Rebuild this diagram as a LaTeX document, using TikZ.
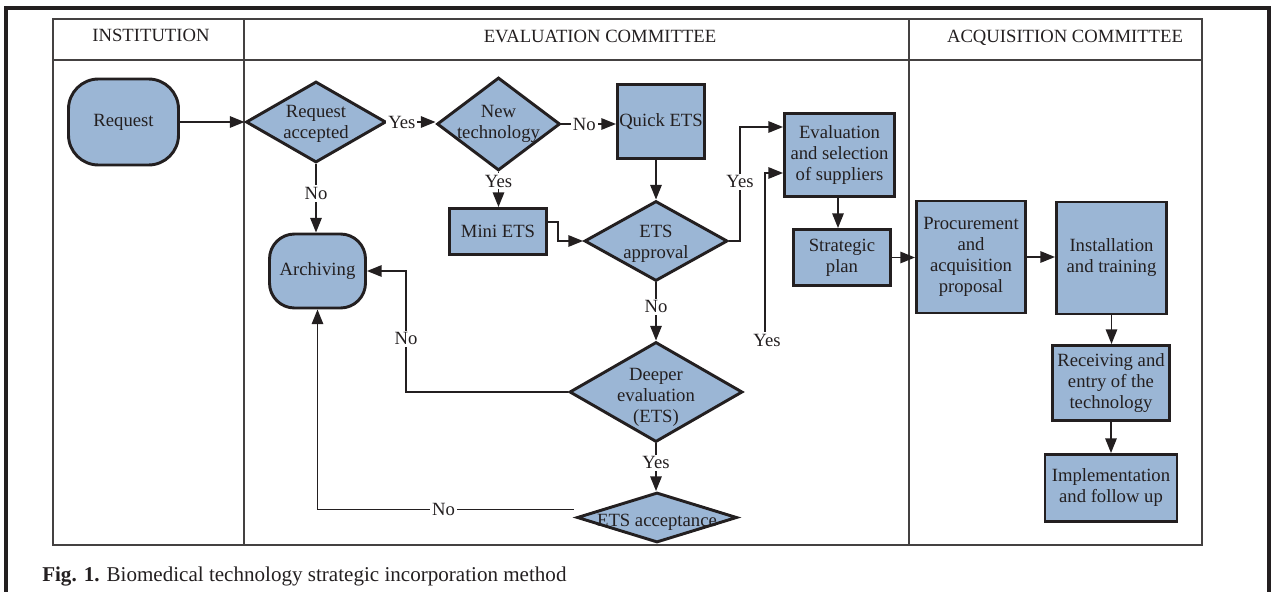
\documentclass[tikz,border=0pt]{standalone}
\usepackage{fontspec}
\setmainfont{Liberation Serif}
\usetikzlibrary{shapes.geometric,arrows.meta,calc}
\definecolor{boxfill}{RGB}{155,182,213}
\definecolor{ink}{RGB}{35,31,32}
\newcommand{\ctr}[2][0pt]{\makebox[0pt]{\raisebox{\dimexpr #1-\height/2\relax}[0pt][0pt]{\begin{tabular}[b]{@{}c@{}}#2\end{tabular}}}}
\tikzset{
  sz/.style 2 args={minimum width=#1*0.75pt, minimum height=#2*0.75pt},
  box/.style={draw=ink, line width=2.2pt, fill=boxfill, inner sep=0pt, align=center, text=ink},
  rbox/.style={box, rounded corners=#1*0.75pt},
  dia/.style={draw=ink, line width=2.2pt, fill=boxfill, shape=diamond, inner sep=0pt, text=ink},
  arr/.style={draw=ink, line width=1.1pt, -{Triangle[length=11pt,width=8.6pt]}},
  lab/.style={fill=white, inner sep=1.5pt, text=ink},
  lane/.style={draw=ink!85, line width=0.8pt},
  frame/.style={draw=ink, line width=2.3pt},
  hdr/.style={text=ink, inner sep=0pt, anchor=base}
}
\begin{document}
\begin{tikzpicture}[x=0.75pt,y=-0.75pt,font=\fontsize{14}{15.75}\selectfont]
\useasboundingbox (0,0) rectangle (1272,592);
\clip (0,0) rectangle (1272,592);
% outer frame
\draw[frame] (6,640) -- (6,8) -- (1269,8) -- (1269,640);
% lanes
\draw[lane] (53,19) rectangle (1202,545);
\draw[lane] (53,60) -- (1202,60);
\draw[lane] (244,19) -- (244,545);
\draw[lane] (909,19) -- (909,545);
\node[hdr] (hInst) at (151,42) {INSTITUTION};
\node[hdr] (hEval) at (600,42.5) {EVALUATION COMMITTEE};
\node[hdr] (hAcq) at (1065,42.5) {ACQUISITION COMMITTEE};
% nodes
\node[rbox=30, sz={110}{86}] (req) at (123.5,122) {Request};
\node[dia, sz={140}{81}] (acc) at (316,122) {\ctr[1pt]{Request\\accepted}};
\node[dia, sz={123}{93}] (newt) at (498.5,124) {\ctr[2.25pt]{New\\technology}};
\node[box, sz={87}{74}] (quick) at (661,121.5) {Quick ETS};
\node[box, sz={97}{46}] (mini) at (498,231.5) {Mini ETS};
\node[dia, sz={143}{80}] (app) at (656,241) {\ctr{ETS\\approval}};
\node[box, sz={110}{83}] (eval) at (839.5,155) {Evaluation\\and selection\\of suppliers};
\node[box, sz={97}{56}] (strat) at (842,257.5) {Strategic\\plan};
\node[box, sz={109}{112}] (proc) at (971,257) {Procurement\\and\\acquisition\\proposal};
\node[box, sz={110}{112}] (inst) at (1111.5,258) {\raisebox{3pt}{\begin{tabular}{@{}c@{}}Installation\\and training\end{tabular}}};
\node[box, sz={117}{75}] (recv) at (1111,383) {Receiving and\\entry of the\\technology};
\node[box, sz={132}{67}] (impl) at (1111,488) {Implementation\\and follow up};
\node[dia, sz={173}{100}] (deep) at (656,392) {\ctr[-1.5pt]{Deeper\\evaluation\\(ETS)}};
\node[dia, sz={160}{50}] (acc2) at (657,517.5) {\ctr[-1pt]{ETS acceptance}};
\node[rbox=25, sz={96}{74}] (arch) at (317.5,271) {Archiving};
\node[lab] (yesfree) at (767,340) {Yes};
% caption
\node[anchor=west, text=ink, inner sep=0pt, font=\fontsize{15.8}{18}\selectfont] (cap) at (42,577) {\textbf{Fig. 1.} Biomedical technology strategic incorporation method};
% connectors
\draw[arr] (req.east) -- (req.east -| acc.west);
\draw[arr] (acc.east) -- node[lab, pos=0.3] {Yes} (acc.east -| newt.west);
\draw[arr] (newt.east) -- node[lab, pos=0.42] {No} (newt.east -| quick.west);
\draw[arr] (newt.south) -- node[lab, pos=0.26] {Yes} (newt.south |- mini.north);
\draw[arr] ($(mini.east)+(0,-9.5)$) -- ++(10,0) |- (app.west);
\draw[arr] (quick.south -| app.north) -- (app.north);
\draw[arr] (app.east) -- ++(11,0) |- node[lab, pos=0.26] {Yes} ($(eval.west)+(0,-28)$);
\draw[arr] (yesfree.north -| 765,0) |- ($(eval.west)+(0,18)$);
\draw[arr] (eval.south -| 838,0) -- (strat.north -| 838,0);
\draw[arr] (strat.east) -- (strat.east -| proc.west);
\draw[arr] (proc.east) -- (proc.east -| inst.west);
\draw[arr] (inst.south) -- (inst.south |- recv.north);
\draw[arr] (recv.south) -- (recv.south |- impl.north);
\draw[arr] (app.south) -- node[lab, pos=0.42] {No} (app.south |- deep.north);
\draw[arr] (deep.west) -| node[lab, pos=0.72] {No} ($(arch.east)+(39,0)$) -- (arch.east);
\draw[arr] (deep.south) -- node[lab, pos=0.41] {Yes} (deep.south |- acc2.north);
\draw[arr] (acc.south) -- node[lab, pos=0.43] {No} (acc.south |- arch.north);
\draw[arr] ($(acc2.west)+(-2,-8)$) -| node[lab, pos=0.254] {No} (arch.south);
\end{tikzpicture}
\end{document}
